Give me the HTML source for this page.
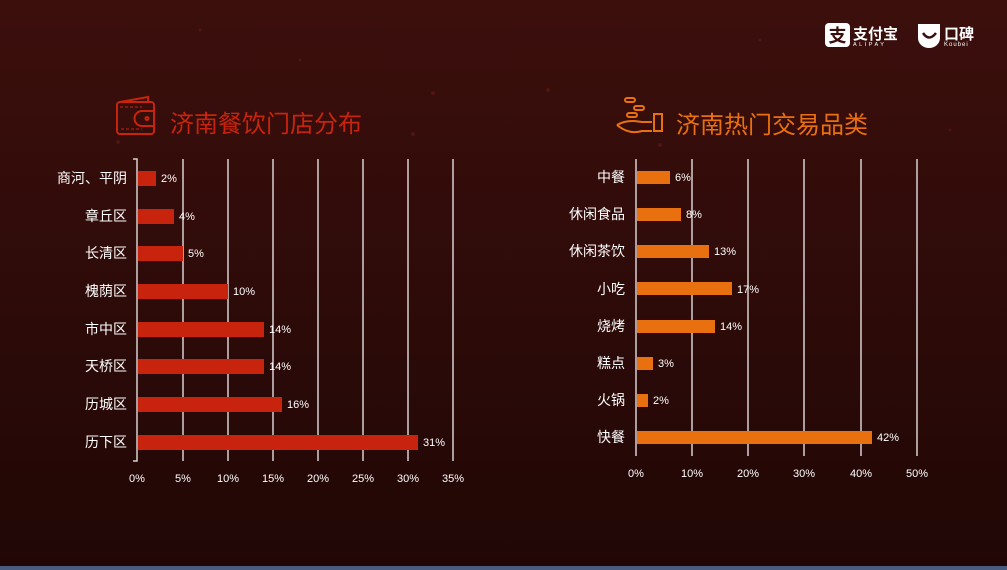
<!DOCTYPE html>
<html><head><meta charset="utf-8"><style>
html,body{margin:0;padding:0;}
body{width:1007px;height:570px;overflow:hidden;background:linear-gradient(#3c0f0c,#2e0b09 50%,#200705);}
svg{display:block;font-family:"Liberation Sans","Noto Sans CJK SC",sans-serif;}
</style></head><body>
<svg width="1007" height="570" xmlns="http://www.w3.org/2000/svg">
<g fill="#5a1a16" opacity="0.7">
<circle cx="433" cy="93" r="2"/><circle cx="118" cy="142" r="2"/><circle cx="413" cy="134" r="2"/><circle cx="660" cy="145" r="2"/><circle cx="548" cy="90" r="2"/><circle cx="760" cy="40" r="1.5"/><circle cx="300" cy="60" r="1.5"/><circle cx="950" cy="130" r="1.5"/><circle cx="200" cy="30" r="1.5"/>
</g>
<rect x="825" y="23" width="25" height="24" rx="4" fill="#fff"/>
<text x="837.5" y="42" font-size="18" text-anchor="middle" fill="#3a0e0c" font-weight="bold">支</text>
<text x="853" y="39" font-size="15" fill="#fff" font-weight="bold">支付宝</text>
<text x="853" y="46" font-size="5.5" fill="#fff" letter-spacing="2.5">ALIPAY</text>
<path d="M918 24h22v14a11 10 0 0 1-11 10a11 10 0 0 1-11-10z" fill="#fff"/>
<path d="M923 33q6 9 13 0" stroke="#3a0e0c" stroke-width="2.5" fill="none"/>
<text x="944" y="39" font-size="15" fill="#fff" font-weight="bold">口碑</text>
<text x="944" y="46" font-size="6" fill="#fff" letter-spacing="1">Koubei</text>
<g stroke="#c8230c" stroke-width="2" fill="none">
<rect x="117" y="102" width="37" height="32" rx="3"/>
<path d="M120 102l28-5v5"/>
<path d="M142 111h12v15h-12a7.5 7.5 0 0 1 0-15z"/>
<circle cx="147" cy="118.5" r="1.5"/>
<path d="M120 107h22M121 129h21" stroke-dasharray="3 2" stroke-width="1"/>
</g>
<text x="170" y="132" font-size="24" fill="#c8230c">济南餐饮门店分布</text>
<g stroke="#e8700f" stroke-width="2" fill="none">
<rect x="625" y="98" width="10" height="4" rx="2"/>
<rect x="634" y="106" width="10" height="4" rx="2"/>
<rect x="627" y="113" width="10" height="4" rx="2"/>
<path d="M617 125q10-6 25-3h10M617 125q12 10 25 6h10"/>
<rect x="654" y="114" width="8" height="17"/>
</g>
<text x="676" y="133" font-size="24" fill="#e8700f">济南热门交易品类</text>
<g stroke="#d8d0d0" stroke-width="1.5">
<line x1="183" y1="159" x2="183" y2="461"/><line x1="228" y1="159" x2="228" y2="461"/><line x1="273" y1="159" x2="273" y2="461"/><line x1="318" y1="159" x2="318" y2="461"/><line x1="363" y1="159" x2="363" y2="461"/><line x1="408" y1="159" x2="408" y2="461"/><line x1="453" y1="159" x2="453" y2="461"/>
<path d="M133 159h4v302h-4" fill="none"/>
</g>
<g fill="#c8230c">
<rect x="138" y="171" width="18" height="15"/><rect x="138" y="209" width="36" height="15"/><rect x="138" y="246" width="45" height="15"/><rect x="138" y="284" width="90" height="15"/><rect x="138" y="322" width="126" height="15"/><rect x="138" y="359" width="126" height="15"/><rect x="138" y="397" width="144" height="15"/><rect x="138" y="435" width="280" height="15"/>
</g>
<g fill="#fff" font-size="14" text-anchor="end">
<text x="127" y="183">商河、平阴</text><text x="127" y="221">章丘区</text><text x="127" y="258">长清区</text><text x="127" y="296">槐荫区</text><text x="127" y="334">市中区</text><text x="127" y="371">天桥区</text><text x="127" y="409">历城区</text><text x="127" y="447">历下区</text>
</g>
<g fill="#fff" font-size="11">
<text x="161" y="182">2%</text><text x="179" y="220">4%</text><text x="188" y="257">5%</text><text x="233" y="295">10%</text><text x="269" y="333">14%</text><text x="269" y="370">14%</text><text x="287" y="408">16%</text><text x="423" y="446">31%</text>
</g>
<g fill="#fff" font-size="11" text-anchor="middle">
<text x="137" y="482">0%</text><text x="183" y="482">5%</text><text x="228" y="482">10%</text><text x="273" y="482">15%</text><text x="318" y="482">20%</text><text x="363" y="482">25%</text><text x="408" y="482">30%</text><text x="453" y="482">35%</text>
</g>
<g stroke="#d8d0d0" stroke-width="1.5">
<line x1="636" y1="159" x2="636" y2="456"/><line x1="692" y1="159" x2="692" y2="456"/><line x1="748" y1="159" x2="748" y2="456"/><line x1="804" y1="159" x2="804" y2="456"/><line x1="861" y1="159" x2="861" y2="456"/><line x1="917" y1="159" x2="917" y2="456"/>
</g>
<g fill="#e8700f">
<rect x="637" y="171" width="33" height="13"/><rect x="637" y="208" width="44" height="13"/><rect x="637" y="245" width="72" height="13"/><rect x="637" y="282" width="95" height="13"/><rect x="637" y="320" width="78" height="13"/><rect x="637" y="357" width="16" height="13"/><rect x="637" y="394" width="11" height="13"/><rect x="637" y="431" width="235" height="13"/>
</g>
<g fill="#fff" font-size="14" text-anchor="end">
<text x="625" y="182">中餐</text><text x="625" y="219">休闲食品</text><text x="625" y="256">休闲茶饮</text><text x="625" y="294">小吃</text><text x="625" y="331">烧烤</text><text x="625" y="368">糕点</text><text x="625" y="405">火锅</text><text x="625" y="442">快餐</text>
</g>
<g fill="#fff" font-size="11">
<text x="675" y="181">6%</text><text x="686" y="218">8%</text><text x="714" y="255">13%</text><text x="737" y="293">17%</text><text x="720" y="330">14%</text><text x="658" y="367">3%</text><text x="653" y="404">2%</text><text x="877" y="441">42%</text>
</g>
<g fill="#fff" font-size="11" text-anchor="middle">
<text x="636" y="477">0%</text><text x="692" y="477">10%</text><text x="748" y="477">20%</text><text x="804" y="477">30%</text><text x="861" y="477">40%</text><text x="917" y="477">50%</text>
</g>
<rect x="0" y="566" width="1007" height="4" fill="#4a5c80"/>
</svg>
</body></html>
